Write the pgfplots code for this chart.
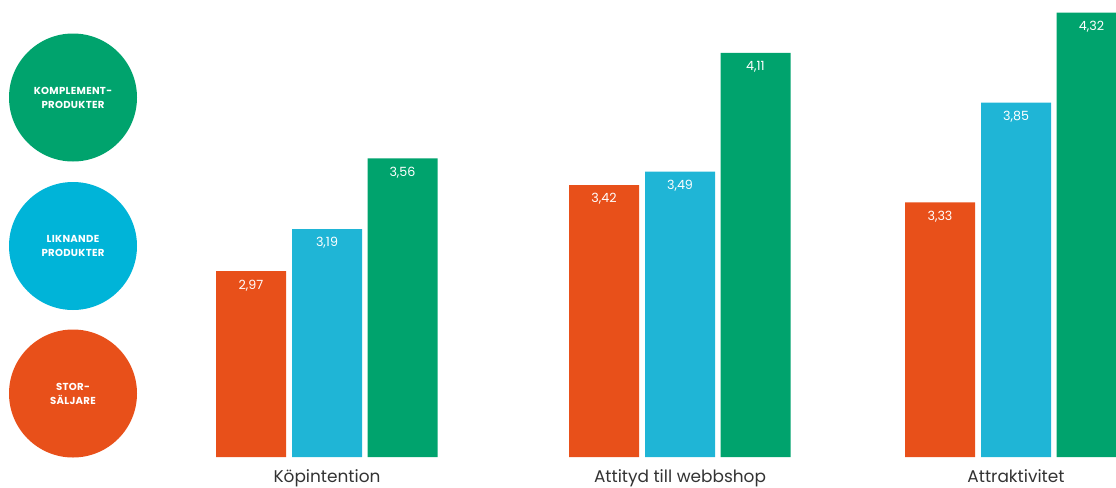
\documentclass[border=0pt]{standalone}
\usepackage{pgfplots}
\pgfplotsset{compat=1.18}
\usepackage{fontspec}
\setmainfont{Poppins}
\newfontfamily\capsfont[LetterSpace=3]{Poppins}
\definecolor{cOr}{HTML}{E8501A}
\definecolor{cBl}{HTML}{1FB5D6}
\definecolor{cGr}{HTML}{00A36D}
\definecolor{cBlC}{HTML}{00B4D8}
\definecolor{cTxt}{HTML}{333333}
\begin{document}
\begin{tikzpicture}[x=0.75pt,y=0.75pt]
\path[use as bounding box] (0,0) rectangle (1116,487);
\begin{axis}[
  at={(112.5pt,22.5pt)}, anchor=south west,
  scale only axis, width=724.5pt, height=342.75pt,
  xmin=150, xmax=1116, ymin=2, ymax=4.3864,
  axis line style={draw=none}, ytick=\empty,
  xtick={327,680,1016},
  xticklabels={Köpintention, Attityd till webbshop, Attraktivitet},
  xticklabel style={anchor=base, yshift=-19pt, font=\fontsize{12.7}{14}\selectfont, text=cTxt},
  major tick length=0pt,
  ybar, bar width=70,
  nodes near coords={\pgfmathprintnumber[fixed,fixed zerofill,precision=2,use comma,assume math mode=true]{\pgfplotspointmeta}},
  every node near coord/.append style={anchor=center, yshift=-10.5pt, text=white, font=\fontsize{9.5}{11}\selectfont},
]
\addplot[fill=cOr, draw=none, bar shift=-76] coordinates {(327,2.97) (680,3.42) (1016,3.33)};
\addplot[fill=cBl, draw=none, bar shift=0] coordinates {(327,3.19) (680,3.49) (1016,3.85)};
\addplot[fill=cGr, draw=none, bar shift=75.5] coordinates {(327,3.56) (680,4.11) (1016,4.32)};
\end{axis}
\fill[cGr] (73,389.5) circle (64);
\fill[cBlC] (73,241) circle (64);
\fill[cOr] (73,93.5) circle (64);
\node[text=white, align=center, font=\capsfont\bfseries\fontsize{7.6}{10.5}\selectfont] at (73,389.5) {KOMPLEMENT-\\PRODUKTER};
\node[text=white, align=center, font=\capsfont\bfseries\fontsize{7.6}{10.5}\selectfont] at (73,241) {LIKNANDE\\PRODUKTER};
\node[text=white, align=center, font=\capsfont\bfseries\fontsize{7.6}{10.5}\selectfont] at (73,93.5) {STOR-\\SÄLJARE};
\end{tikzpicture}
\end{document}
